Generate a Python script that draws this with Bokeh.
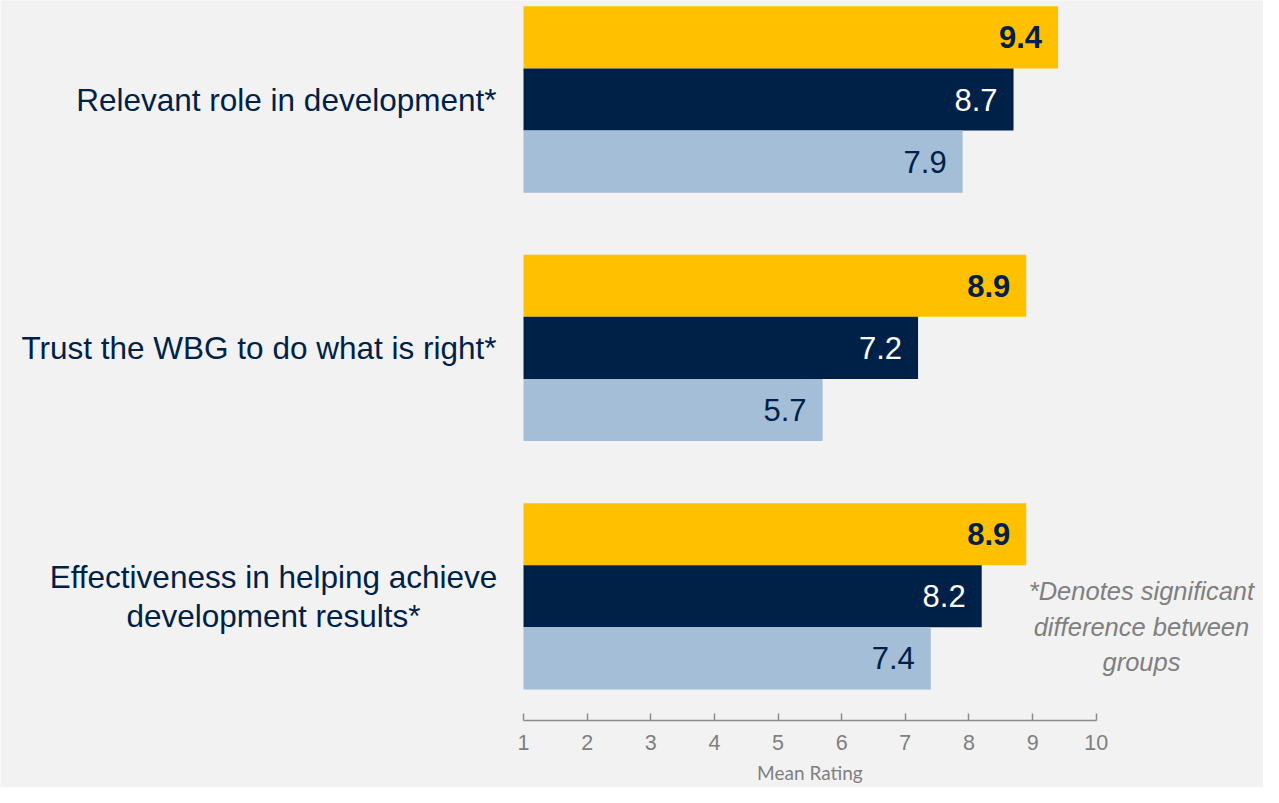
from bokeh.plotting import figure
from bokeh.models import Range1d, FixedTicker, ColumnDataSource, LinearAxis
from bokeh.core.properties import value
from bokeh.embed import file_html
from bokeh.resources import INLINE

# ---- data ----
categories = [
    "Relevant role in development*",
    "Trust the WBG to do what is right*",
    "Effectiveness in helping achieve\ndevelopment results*",
]
series_yellow = [9.4, 8.9, 8.9]
series_navy = [8.7, 7.2, 8.2]
series_light = [7.9, 5.7, 7.4]
x_ticks = [1, 2, 3, 4, 5, 6, 7, 8, 9, 10]
x_label = "Mean Rating"
note_text = "*Denotes significant\ndifference between\ngroups"

YELLOW = "#FFC000"
NAVY = "#002147"
LIGHT = "#A3BED6"
GRAY = "#7F7F7F"
BG = "#F2F2F2"

W, H = 1263, 787
AXIS_PX = 720        # pixel row of the value axis
X0_PX = 523          # pixel of value 1
PX_PER_UNIT = 63.64  # horizontal scale
Y_PX_PER_UNIT = 62.1
AXIS_Y = 10.0        # data y of the value axis

x_start = 1 - X0_PX / PX_PER_UNIT
x_end = 1 + (W - X0_PX) / PX_PER_UNIT
y_top = AXIS_Y - AXIS_PX / Y_PX_PER_UNIT
y_bottom = AXIS_Y + (H - AXIS_PX) / Y_PX_PER_UNIT

group_centers = [4 * i for i in range(len(categories))]

p = figure(
    width=W, height=H,
    min_border=0,
    x_range=Range1d(x_start, x_end), y_range=Range1d(y_bottom, y_top),
    output_backend="svg", toolbar_location=None,
    background_fill_color=BG, border_fill_color=BG,
    x_axis_location=None, y_axis_location=None,
)
p.outline_line_color = None
p.grid.visible = False

series = [
    (series_yellow, -1, YELLOW, NAVY, "bold"),
    (series_navy, 0, NAVY, "white", "normal"),
    (series_light, 1, LIGHT, NAVY, "normal"),
]
for vals, off, color, tcolor, tstyle in series:
    src = ColumnDataSource(dict(
        y=[c + off for c in group_centers],
        right=vals,
        label=[f"{v:.1f}" for v in vals],
    ))
    p.hbar(y="y", left=1, right="right", height=1.0, source=src,
           fill_color=color, line_color=None)
    p.text(x="right", y="y", text="label", source=src,
           x_offset=-16, text_align="right", text_baseline="middle",
           text_font=value("Liberation Sans"), text_font_size="31px",
           text_font_style=tstyle, text_color=tcolor)

# category labels (left of the bars)
single = [i for i, c in enumerate(categories) if "\n" not in c]
multi = [i for i, c in enumerate(categories) if "\n" in c]
p.text(x=[1] * len(single), y=[group_centers[i] for i in single],
       text=[categories[i] for i in single],
       x_offset=-27, text_align="right", text_baseline="middle",
       text_font=value("Liberation Sans"), text_font_size="31.5px",
       text_color=NAVY)
p.text(x=[1] * len(multi), y=[group_centers[i] for i in multi],
       text=[categories[i] for i in multi],
       x_offset=-250, text_align="center", text_baseline="middle",
       text_font=value("Liberation Sans"), text_font_size="31.5px",
       text_color=NAVY, text_line_height=1.1)

# footnote
p.text(x=[10.71], y=[8.49], text=[note_text],
       text_align="center", text_baseline="middle",
       text_font=value("Liberation Sans"), text_font_size="25.5px",
       text_font_style="italic", text_color=GRAY, text_line_height=1.27)

# value axis drawn inside the frame at y = AXIS_Y
xa = LinearAxis(fixed_location=AXIS_Y)
xa.ticker = FixedTicker(ticks=x_ticks)
xa.bounds = (1, 10)
xa.major_label_text_font = "Liberation Sans"
xa.major_label_text_font_size = "21.5px"
xa.major_label_text_color = GRAY
xa.major_label_standoff = 14
xa.axis_line_color = "#8C8C8C"
xa.axis_line_width = 1.5
xa.major_tick_line_color = "#8C8C8C"
xa.major_tick_line_width = 1.5
xa.major_tick_in = 7
xa.major_tick_out = 0
xa.minor_tick_line_color = None
p.add_layout(xa, "below")

# axis title centred under the 1..10 span
p.text(x=[(x_ticks[0] + x_ticks[-1]) / 2], y=[AXIS_Y], text=[x_label],
       y_offset=52, text_align="center", text_baseline="middle",
       text_font=value("Lato"), text_font_size="19px", text_color=GRAY)

open("out.html", "w").write(file_html(p, INLINE))
